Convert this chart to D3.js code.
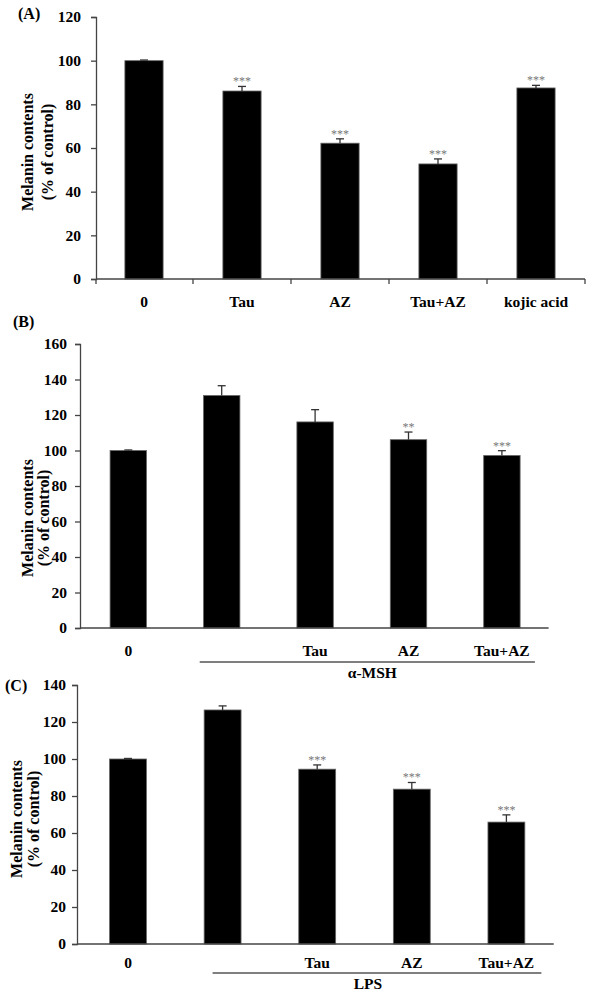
<!DOCTYPE html>
<html><head><meta charset="utf-8">
<script src="https://cdn.jsdelivr.net/npm/d3@7"></script>
<style>
body{margin:0;background:#fff;}
svg{display:block;}
text{font-family:"Liberation Serif","Times New Roman",serif;font-weight:bold;fill:#000;}
</style></head><body>
<svg id="c" width="600" height="1006"></svg>
<script>
// Panel A
const catsA = ["0","Tau","AZ","Tau+AZ","kojic acid"];
const valsA = [100, 86.1, 62.2, 52.7, 87.5];
const errA  = [0.3, 2.1, 2.0, 2.3, 1.2];
const starsA = ["", "***", "***", "***", "***"];
const ticksA = [0,20,40,60,80,100,120];
// Panel B
const catsB = ["0","","Tau","AZ","Tau+AZ"];
const valsB = [100, 131.0, 116.1, 106.1, 97.2];
const errB  = [0.3, 5.5, 6.9, 4.3, 2.7];
const starsB = ["", "", "", "**", "***"];
const ticksB = [0,20,40,60,80,100,120,140,160];
const groupB = "α-MSH";
// Panel C
const catsC = ["0","","Tau","AZ","Tau+AZ"];
const valsC = [100, 126.5, 94.5, 83.7, 65.9];
const errC  = [0.3, 2.2, 2.3, 3.6, 3.9];
const starsC = ["", "", "***", "***", "***"];
const ticksC = [0,20,40,60,80,100,120,140];
const groupC = "LPS";

const svg = d3.select("#c");
const axisCol = "#444";

function panel(o){
  const g = svg.append("g");
  const y = d3.scaleLinear().domain([0, o.ymax]).range([o.y0, o.y1]);
  const x = d3.scaleBand().domain(d3.range(o.cats.length)).range([o.xb0, o.xb1]).padding(0);
  const bw = x.bandwidth()*0.39;
  // y axis
  const ya = g.append("g").attr("transform",`translate(${o.ax},0)`)
    .call(d3.axisLeft(y).tickValues(o.ticks).tickSize(5).tickPadding(o.tp).tickFormat(d3.format("d")));
  ya.select(".domain").attr("stroke",axisCol).attr("stroke-width",1.3);
  ya.selectAll(".tick line").attr("stroke",axisCol).attr("stroke-width",1.3);
  ya.selectAll(".tick text").attr("font-size",15.5).attr("font-family","Liberation Serif").attr("font-weight","bold").attr("fill","#000");
  // bars
  g.selectAll("rect.bar").data(o.vals).join("rect")
    .attr("x",(d,i)=>x(i)+x.bandwidth()/2-bw/2).attr("width",bw)
    .attr("y",d=>y(d)).attr("height",d=>y(0)-y(d))
    .attr("fill","#000").attr("stroke","#666").attr("stroke-width",0.8);
  // error bars
  const eg = g.selectAll("g.err").data(o.vals).join("g");
  eg.append("line").attr("x1",(d,i)=>x(i)+x.bandwidth()/2).attr("x2",(d,i)=>x(i)+x.bandwidth()/2)
    .attr("y1",d=>y(d)).attr("y2",(d,i)=>y(d+o.err[i])).attr("stroke","#333").attr("stroke-width",1.3);
  eg.append("line").attr("x1",(d,i)=>x(i)+x.bandwidth()/2-4).attr("x2",(d,i)=>x(i)+x.bandwidth()/2+4)
    .attr("y1",(d,i)=>y(d+o.err[i])).attr("y2",(d,i)=>y(d+o.err[i])).attr("stroke","#333").attr("stroke-width",1.3);
  // stars
  g.selectAll("text.star").data(o.vals).join("text")
    .attr("x",(d,i)=>x(i)+x.bandwidth()/2).attr("y",(d,i)=>y(d+o.err[i])-1)
    .attr("text-anchor","middle").attr("font-size",12)
    .style("fill","#777").style("font-weight","normal").text((d,i)=>o.stars[i]);
  // x axis line
  g.append("line").attr("x1",o.ax).attr("x2",o.xb1).attr("y1",y(0)).attr("y2",y(0))
    .attr("stroke",axisCol).attr("stroke-width",1.5);
  if(o.xticks){
    d3.range(o.cats.length+1).forEach(i=>{
      const xx = o.xb0 + i*x.step() + (i===0?1:0);
      g.append("line").attr("x1",xx).attr("x2",xx).attr("y1",y(0)).attr("y2",y(0)+5)
        .attr("stroke",axisCol).attr("stroke-width",1.3);
    });
  }
  // x labels
  g.selectAll("text.xl").data(o.cats).join("text")
    .attr("x",(d,i)=>x(i)+x.bandwidth()/2).attr("y",y(0)+o.xly)
    .attr("text-anchor","middle").attr("font-size",15.5).text(d=>d);
  // y title
  g.append("text").attr("transform",`translate(${o.t1x},${o.ty}) rotate(-90)`)
    .attr("text-anchor","middle").attr("dominant-baseline","central").attr("font-size",16).text("Melanin contents");
  g.append("text").attr("transform",`translate(${o.t2x},${o.ty}) rotate(-90)`)
    .attr("text-anchor","middle").attr("dominant-baseline","central").attr("font-size",16).text("(% of control)");
  // panel label
  g.append("text").attr("x",o.lx).attr("y",o.ly).attr("font-size",16).text(o.label);
  // group line
  if(o.group){
    const c1 = x(1)+x.bandwidth()/2, c4 = x(4)+x.bandwidth()/2;
    const gx0 = c1 + o.gl0, gx1 = c4 + o.gl1;
    g.append("line").attr("x1",gx0).attr("x2",gx1).attr("y1",y(0)+o.gly).attr("y2",y(0)+o.gly)
      .attr("stroke","#555").attr("stroke-width",1.5);
    g.append("text").attr("x",(gx0+gx1)/2+o.gtx).attr("y",y(0)+o.gly+16).attr("text-anchor","middle")
      .attr("font-size",15.5).text(o.group);
  }
}

panel({cats:catsA, vals:valsA, err:errA, stars:starsA, ticks:ticksA, ymax:120,
  y0:279, y1:17, ax:96, xb0:95, xb1:585, tp:10, xticks:true, xly:28,
  t1x:27, t2x:47, ty:152, lx:18, ly:19, label:"(A)"});
panel({cats:catsB, vals:valsB, err:errB, stars:starsB, ticks:ticksB, ymax:160,
  y0:628, y1:344, ax:80, xb0:81.6, xb1:548.6, tp:8, xticks:false, xly:28,
  t1x:27, t2x:43, ty:518, lx:13, ly:327, label:"(B)",
  group:groupB, gl0:-22, gl1:33, gly:34, gtx:5});
panel({cats:catsC, vals:valsC, err:errC, stars:starsC, ticks:ticksC, ymax:140,
  y0:944, y1:685, ax:77, xb0:80.7, xb1:553.7, tp:6, xticks:false, xly:24,
  t1x:16, t2x:33, ty:819, lx:5, ly:691, label:"(C)",
  group:groupC, gl0:-10, gl1:35, gly:29, gtx:-9});
</script></body></html>
